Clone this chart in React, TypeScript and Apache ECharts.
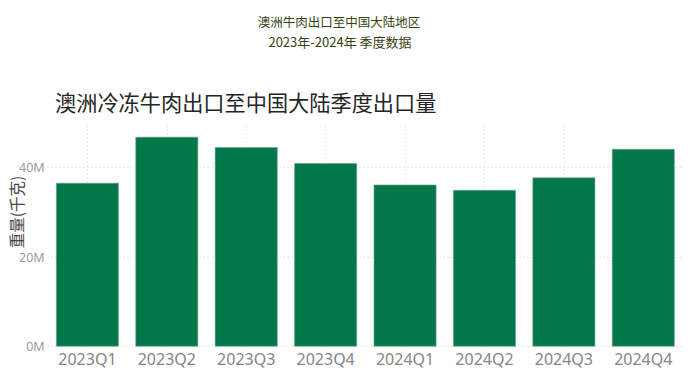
import React, { useEffect, useRef } from "react";
import * as echarts from "echarts";

const quarters = ["2023Q1", "2023Q2", "2023Q3", "2023Q4", "2024Q1", "2024Q2", "2024Q3", "2024Q4"];
const weightKg = [36.6e6, 46.9e6, 44.6e6, 41.0e6, 36.2e6, 35.0e6, 37.8e6, 44.2e6];
const yTicks = [0, 20e6, 40e6];
const gridCategories = ["2023Q1", "2023Q2", "2023Q3", "2023Q4", "2024Q1", "2024Q2", "2024Q3"];

const headLine1 = "澳洲牛肉出口至中国大陆地区";
const headLine2 = "2023年-2024年 季度数据";
const chartTitle = "澳洲冷冻牛肉出口至中国大陆季度出口量";
const yName = "重量(千克)";

const CJK = "'Noto Sans CJK SC', sans-serif";

export default function App() {
  const ref = useRef<HTMLDivElement>(null);
  useEffect(() => {
    if (!ref.current) return;
    const chart = echarts.init(ref.current, null, { renderer: "svg" });
    const gridStyle = { type: [1, 3] as any, color: "#cfcfcf", width: 1 };
    chart.setOption({
      animation: false,
      backgroundColor: "#ffffff",
      textStyle: { fontFamily: "'Noto Sans', 'Noto Sans CJK SC', sans-serif" },
      grid: { left: 47.7, right: 14, top: 123, bottom: 42.5, containLabel: false },
      graphic: [
        {
          type: "text", x: 339, y: 21,
          style: { text: headLine1, fill: "#34420f", fontSize: 12.5, fontFamily: CJK, textAlign: "center", textVerticalAlign: "middle" },
        },
        {
          type: "text", x: 340, y: 41,
          style: { text: headLine2, fill: "#34420f", fontSize: 13, fontFamily: CJK, textAlign: "center", textVerticalAlign: "middle" },
        },
        {
          type: "text", x: 55, y: 101,
          style: { text: chartTitle, fill: "#252525", fontSize: 21.2, fontFamily: CJK, textAlign: "left", textVerticalAlign: "middle" },
        },
        {
          type: "text", x: 16, y: 212, rotation: Math.PI / 2,
          style: { text: yName, fill: "#444444", fontSize: 15.5, fontFamily: CJK, textAlign: "center", textVerticalAlign: "middle" },
        },
      ],
      xAxis: {
        type: "category",
        data: quarters,
        axisLine: { show: false },
        axisTick: { show: false },
        splitLine: { show: false },
        axisLabel: { color: "#858585", fontSize: 16, margin: 4, fontFamily: "'Noto Sans', sans-serif" },
      },
      yAxis: {
        type: "value",
        min: 0,
        max: 50e6,
        interval: 20e6,
        axisLine: { show: false },
        axisTick: { show: false },
        splitLine: { show: false },
        axisLabel: {
          color: "#9a9a9a",
          fontSize: 12.5,
          margin: 3,
          showMaxLabel: false,
          formatter: (v: number) => (yTicks.includes(v) ? `${v / 1e6}M` : ""),
        },
      },
      series: [
        {
          type: "line",
          data: [],
          z: 1,
          silent: true,
          markLine: {
            silent: true,
            symbol: ["none", "none"],
            label: { show: false },
            lineStyle: gridStyle,
            data: [
              ...yTicks.map((v) => ({ yAxis: v })),
              ...gridCategories.map((c) => ({ xAxis: c })),
            ],
          },
        },
        {
          type: "bar",
          data: weightKg,
          z: 10,
          barCategoryGap: "21%",
          itemStyle: { color: "#02774a", borderColor: "#6fa58c", borderWidth: 0.6 },
        },
      ],
    });
    return () => chart.dispose();
  }, []);
  return <div ref={ref} style={{ width: 697, height: 389, position: "absolute", left: 0, top: 0 }} />;
}
